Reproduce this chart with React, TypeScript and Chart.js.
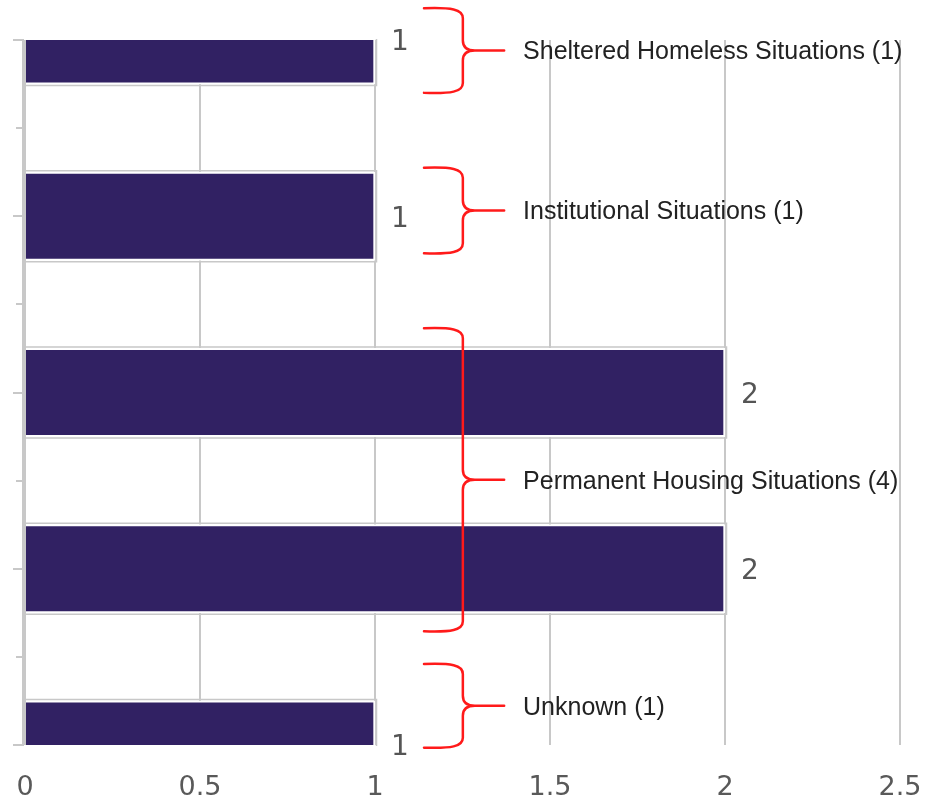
import React, { useEffect, useRef } from "react";
import { Chart, registerables } from "chart.js";

Chart.register(...registerables);

// ---- data ----
const categories = [
  "Sheltered Homeless",
  " ",
  "Institutional",
  "  ",
  "Permanent Housing A",
  "   ",
  "Permanent Housing B",
  "    ",
  "Unknown",
];
const values: (number | null)[] = [1, null, 1, null, 2, null, 2, null, 1];
const xMin = 0;
const xMax = 2.5;
const xStep = 0.5;

const groupLabels = [
  "Sheltered Homeless Situations (1)",
  "Institutional Situations (1)",
  "Permanent Housing Situations (4)",
  "Unknown (1)",
];
// brace extents, in category-index units
const groupStart = [-0.36, 1.45, 3.27, 7.08];
const groupEnd = [0.6, 2.42, 6.71, 8.03];

// brace horizontal placement, in value units of the x scale
const braceArm = 1.14;
const braceSpine = 1.251;
const braceTip = 1.369;
const labelAt = 1.423;

const BAR = "#312163";
const GRID = "#c8c8c8";

const overlay = {
  id: "overlay",
  afterDatasetsDraw(chart: any) {
    const ctx = chart.ctx as CanvasRenderingContext2D;
    const area = chart.chartArea;
    const meta = chart.getDatasetMeta(0);

    // thin grey outline outside each bar
    ctx.save();
    ctx.beginPath();
    ctx.rect(area.left - 3, area.top - 1, area.right - area.left + 6, area.bottom - area.top + 2);
    ctx.clip();
    ctx.strokeStyle = GRID;
    ctx.lineWidth = 1.5;
    meta.data.forEach((bar: any, i: number) => {
      if (values[i] == null) return;
      const p = bar.getProps(["x", "y", "base", "height"], true);
      const h = p.height / 2 + 1.5;
      ctx.beginPath();
      ctx.moveTo(p.base, p.y - h);
      ctx.lineTo(p.x + 1.5, p.y - h);
      ctx.lineTo(p.x + 1.5, p.y + h);
      ctx.lineTo(p.base, p.y + h);
      ctx.stroke();
    });
    ctx.restore();

    // value labels
    ctx.save();
    ctx.font = "28px 'DejaVu Sans'";
    ctx.fillStyle = "#555555";
    ctx.textBaseline = "middle";
    ctx.textAlign = "left";
    meta.data.forEach((bar: any, i: number) => {
      if (values[i] == null) return;
      const p = bar.getProps(["x", "y"], true);
      ctx.fillText(String(values[i]), p.x + 16, p.y + 3);
    });
    ctx.restore();
  },
  afterDraw(chart: any) {
    const ctx = chart.ctx as CanvasRenderingContext2D;
    const area = chart.chartArea;
    const xs = chart.scales.x;
    const ys = chart.scales.y;

    // y axis line and ticks
    ctx.save();
    ctx.strokeStyle = GRID;
    ctx.lineWidth = 2;
    const axX = area.left - 2;
    ctx.beginPath();
    ctx.moveTo(axX, area.top - 1);
    ctx.lineTo(axX, area.bottom + 1);
    ctx.stroke();
    categories.forEach((_, i) => {
      const py = Math.round(ys.getPixelForValue(i));
      const len = values[i] == null ? 7 : 10;
      ctx.beginPath();
      ctx.moveTo(axX - len, py);
      ctx.lineTo(axX, py);
      ctx.stroke();
    });
    ctx.restore();

    // braces with group labels
    ctx.save();
    ctx.strokeStyle = "#ff1a1a";
    ctx.lineWidth = 2.5;
    ctx.lineCap = "round";
    ctx.lineJoin = "round";
    const xa = xs.getPixelForValue(braceArm);
    const xv = xs.getPixelForValue(braceSpine);
    const xt = xs.getPixelForValue(braceTip);
    groupLabels.forEach((label, g) => {
      const top = ys.getPixelForValue(groupStart[g]);
      const bot = ys.getPixelForValue(groupEnd[g]);
      const mid = (top + bot) / 2;
      const r = 10;
      ctx.beginPath();
      ctx.moveTo(xa, top);
      ctx.bezierCurveTo(xa + (xv - xa) * 0.7, top - 1, xv, top + 1, xv, top + r);
      ctx.lineTo(xv, mid - r);
      ctx.quadraticCurveTo(xv, mid, xv + 12, mid);
      ctx.lineTo(xt, mid);
      ctx.moveTo(xv + 12, mid);
      ctx.quadraticCurveTo(xv, mid, xv, mid + r);
      ctx.lineTo(xv, bot - r);
      ctx.bezierCurveTo(xv, bot - 1, xa + (xv - xa) * 0.7, bot + 1, xa, bot);
      ctx.stroke();

      ctx.font = "25px 'Liberation Sans'";
      ctx.fillStyle = "#222222";
      ctx.textBaseline = "middle";
      ctx.textAlign = "left";
      ctx.fillText(label, xs.getPixelForValue(labelAt), mid + 2);
    });
    ctx.restore();
  },
};

export default function App() {
  const ref = useRef<HTMLCanvasElement | null>(null);

  useEffect(() => {
    if (!ref.current) return;
    const chart = new Chart(ref.current, {
      type: "bar",
      data: {
        labels: categories,
        datasets: [
          {
            data: values as any,
            backgroundColor: BAR,
            borderColor: "#ffffff",
            borderWidth: 2,
            barPercentage: 1,
            categoryPercentage: 1,
            clip: 0 as any,
          },
        ],
      },
      options: {
        indexAxis: "y",
        animation: false,
        responsive: false,
        maintainAspectRatio: false,
        layout: { autoPadding: false, padding: { top: 40, right: 36, bottom: 0, left: 0 } },
        plugins: {
          legend: { display: false },
          tooltip: { enabled: false },
          title: { display: false },
        },
        scales: {
          x: {
            type: "linear",
            min: xMin,
            max: xMax,
            ticks: {
              stepSize: xStep,
              padding: 27,
              color: "#595959",
              font: { family: "'DejaVu Sans'", size: 27 },
              callback: (v: any) => String(Number(v)),
            },
            grid: { color: GRID, lineWidth: 2, drawTicks: false },
            border: { display: false },
            afterFit: (s: any) => {
              s.height = 63;
              s.paddingLeft = 0;
              s.paddingRight = 0;
            },
          },
          y: {
            type: "category",
            offset: false,
            ticks: { display: false },
            grid: { display: false },
            border: { display: false },
            afterFit: (s: any) => {
              s.width = 25;
              s.paddingTop = 0;
              s.paddingBottom = 0;
            },
          },
        },
      },
      plugins: [overlay],
    });
    return () => chart.destroy();
  }, []);

  return (
    <div style={{ position: "fixed", left: 0, top: 0, width: 936, height: 808, background: "#ffffff" }}>
      <canvas ref={ref} width={936} height={808} style={{ display: "block" }} />
    </div>
  );
}
